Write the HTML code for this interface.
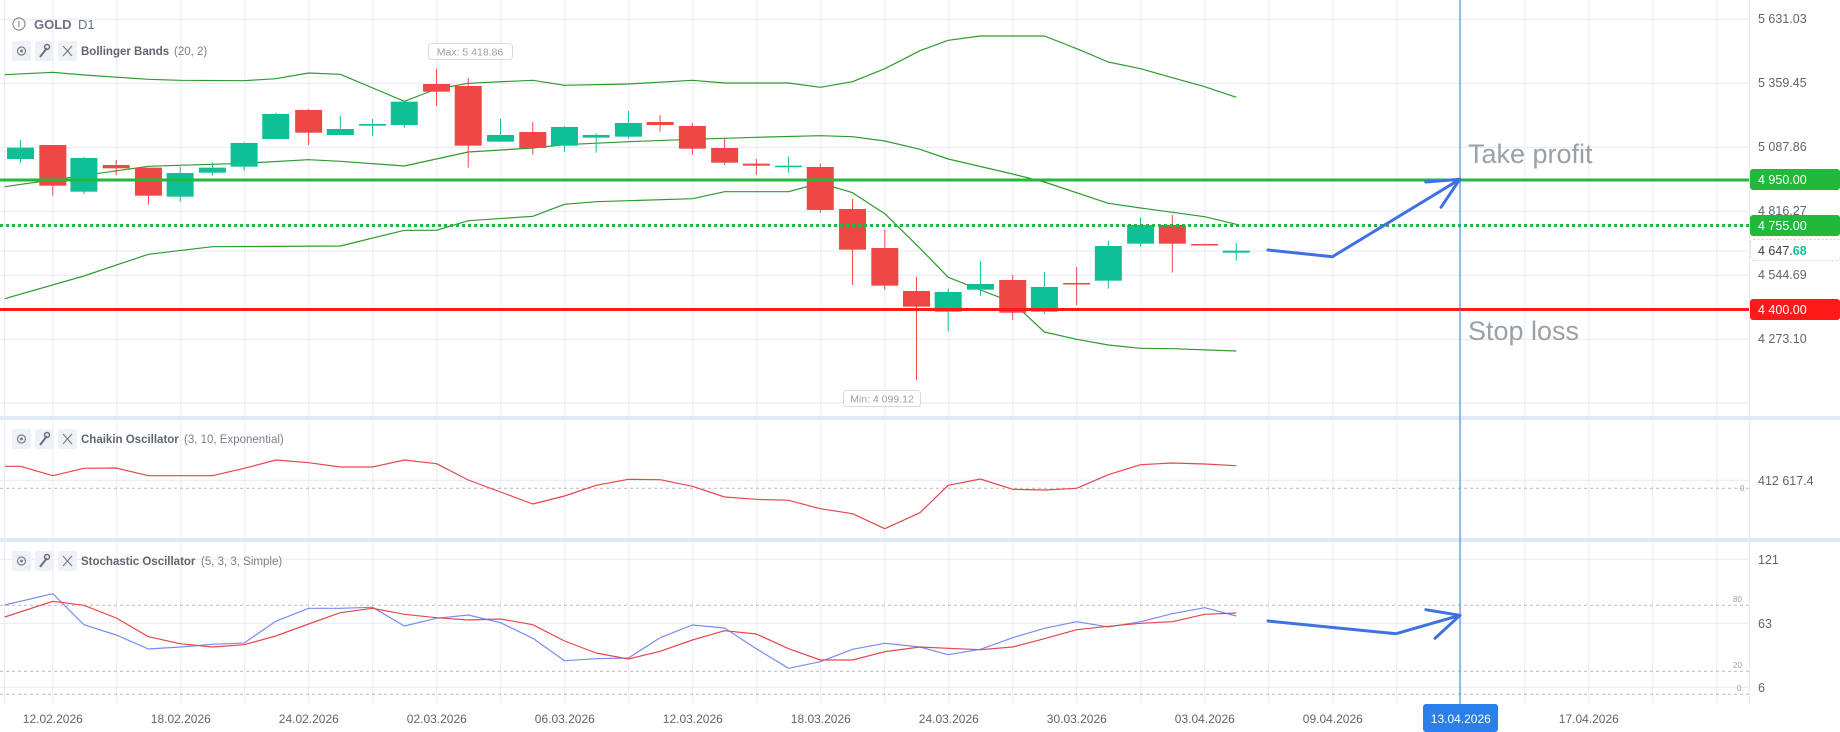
<!DOCTYPE html>
<html><head><meta charset="utf-8">
<style>
html,body{margin:0;padding:0;background:#fff;}
svg{display:block;font-family:"Liberation Sans",sans-serif;}
</style></head>
<body>
<svg id="s" width="1840" height="732" viewBox="0 0 1840 732" xmlns="http://www.w3.org/2000/svg">
<rect width="1840" height="732" fill="#fff"/>
<g id="grid"></g>
<g id="plots"></g>
<!-- separators -->
<rect x="0" y="416" width="1840" height="4" fill="#e1e8f6"/>
<rect x="0" y="538" width="1840" height="4" fill="#e1e8f6"/>
<line x1="1749.5" y1="0" x2="1749.5" y2="704" stroke="#e3e9f5"/>
<!-- level lines -->
<line x1="0" y1="180" x2="1749" y2="180" stroke="#22b83c" stroke-width="3"/>
<line x1="0" y1="225.5" x2="1749" y2="225.5" stroke="#22b83c" stroke-width="3" stroke-dasharray="3,3"/>
<line x1="0" y1="309.5" x2="1749" y2="309.5" stroke="#ff1a1a" stroke-width="3"/>
<line x1="1460" y1="0" x2="1460" y2="704" stroke="#2a7fe8" stroke-width="1"/>
<g id="arrows" stroke="#3f72e0" stroke-width="3" fill="none" stroke-linecap="round" stroke-linejoin="round">
<polyline points="1268,250 1332.5,256.7 1459.8,179.3"/>
<polyline points="1425.8,182 1459.8,179.3 1441,207.3"/>
<polyline points="1268,621 1396,633.7 1460,615.3"/>
<polyline points="1425.8,609.7 1460,615.3 1435,638.3"/>
</g>
<text x="1468" y="163" font-size="27" fill="#9aa0a8">Take profit</text>
<text x="1468" y="340" font-size="27" fill="#9aa0a8">Stop loss</text>
<!-- header -->
<circle cx="19" cy="24" r="6" fill="none" stroke="#8a9099" stroke-width="1.2"/>
<line x1="19" y1="21" x2="19" y2="27" stroke="#8a9099" stroke-width="1.2"/>
<text x="34" y="29" font-size="13" font-weight="bold" fill="#6b7280">GOLD</text>
<text x="78" y="29" font-size="13" fill="#6b7280">D1</text>
<g id="icons"></g>
<text x="81" y="55" font-size="11.5" font-weight="bold" fill="#5f6670">Bollinger Bands</text>
<text x="174" y="55" font-size="11.5" fill="#7a808a">(20, 2)</text>
<text x="81" y="443" font-size="11.5" font-weight="bold" fill="#5f6670">Chaikin Oscillator</text>
<text x="184" y="443" font-size="11.5" fill="#7a808a">(3, 10, Exponential)</text>
<text x="81" y="565" font-size="11.5" font-weight="bold" fill="#5f6670">Stochastic Oscillator</text>
<text x="201" y="565" font-size="11.5" fill="#7a808a">(5, 3, 3, Simple)</text>
<!-- max/min tooltips -->
<rect x="428.5" y="43.5" width="84" height="16" rx="3" fill="#fff" stroke="#d8dde3"/>
<text x="470" y="55.5" font-size="10.5" fill="#9aa0a8" text-anchor="middle">Max: 5 418.86</text>
<rect x="843.5" y="390.5" width="77" height="16" rx="3" fill="#fff" stroke="#d8dde3"/>
<text x="882" y="402.5" font-size="10.5" fill="#9aa0a8" text-anchor="middle">Min: 4 099.12</text>
<!-- price axis -->
<g font-size="12.5" fill="#5f6670">
<text x="1758" y="23">5 631.03</text>
<text x="1758" y="87">5 359.45</text>
<text x="1758" y="151">5 087.86</text>
<text x="1758" y="215">4 816.27</text>
<text x="1758" y="279">4 544.69</text>
<text x="1758" y="343">4 273.10</text>
</g>
<rect x="1750" y="169" width="90" height="21" rx="3" fill="#22b83c"/>
<text x="1758" y="184" font-size="12.5" fill="#fff">4 950.00</text>
<rect x="1750" y="215" width="90" height="21" rx="3" fill="#22b83c"/>
<text x="1758" y="230" font-size="12.5" fill="#fff">4 755.00</text>
<rect x="1750.5" y="239.5" width="90" height="21" rx="3" fill="#fff" stroke="#d0d5dc" stroke-dasharray="2,2"/>
<text x="1758" y="255" font-size="12.5" fill="#3a4048">4 647.<tspan fill="#0fbf95" font-weight="bold">68</tspan></text>
<rect x="1750" y="299" width="90" height="21" rx="3" fill="#ff1a1a"/>
<text x="1758" y="314" font-size="12.5" fill="#fff">4 400.00</text>
<!-- osc axes -->
<text x="1758" y="485" font-size="12.5" fill="#5f6670">412 617.4</text>
<text x="1740" y="491" font-size="8" fill="#9aa0a8">0</text>
<text x="1758" y="564" font-size="12.5" fill="#5f6670">121</text>
<text x="1758" y="628" font-size="12.5" fill="#5f6670">63</text>
<text x="1758" y="692" font-size="12.5" fill="#5f6670">6</text>
<text x="1733" y="602" font-size="8" fill="#9aa0a8">80</text>
<text x="1733" y="668" font-size="8" fill="#9aa0a8">20</text>
<text x="1737" y="691" font-size="8" fill="#9aa0a8">0</text>
<!-- date axis -->
<rect x="1423" y="704" width="75" height="28" rx="3" fill="#2a7fe8"/>
<g id="dates" font-size="12" fill="#5f6670" text-anchor="middle"></g>
</svg>
<script>
const NS="http://www.w3.org/2000/svg";
function el(p,t,a){const e=document.createElementNS(NS,t);for(const k in a)e.setAttribute(k,a[k]);p.appendChild(e);return e;}
const X1=z=>z/1.7043, X2=z=>920+z/1.7043, Y1=z=>z/3, Y3=z=>366+z/3;
const g=document.getElementById('grid');
// vertical grid
for(let x=52.8;x<1749;x+=64){el(g,'line',{x1:x,y1:0,x2:x,y2:704,stroke:'#e6ecf6'});}
el(g,'line',{x1:4.5,y1:0,x2:4.5,y2:704,stroke:'#e6ecf6'});
[19.3,83.3,147.3,211.3,275.3,339.3,403,251].forEach(y=>el(g,'line',{x1:0,y1:y,x2:1749,y2:y,stroke:'#e3e9f5'}));
[480.3,559.3,623.3,687.3].forEach(y=>el(g,'line',{x1:0,y1:y,x2:1749,y2:y,stroke:'#e3e9f5'}));
[488.3,605.3,671.3,694.3].forEach(y=>el(g,'line',{x1:0,y1:y,x2:1749,y2:y,stroke:'#b5b9c0','stroke-dasharray':'3,3'}));
const P=document.getElementById('plots');
function pl(pts1,pts2,fx1,fx2,fy,col,w){let s=pts1.map(p=>fx1(p[0]).toFixed(1)+','+fy(p[1]).toFixed(1));s=s.concat(pts2.map(p=>fx2(p[0]).toFixed(1)+','+fy(p[1]).toFixed(1)));el(P,'polyline',{points:s.join(' '),fill:'none',stroke:col,'stroke-width':w||1.2,'stroke-linejoin':'round'});}
const BB='#2f9a2f';
pl([[8,224],[90,217],[143,225],[253,238],[307,241],[416,242],[470,236],[526,219],[580,223],[689,304],[744,267],[798,250],[908,241],[962,256],[1071,252],[1180,241],[1235,249],[1344,249],[1398,262],[1453,245],[1508,206]],[[0,152],[48,121],[103,108],[212,108],[267,146],[321,186],[376,206],[430,233],[485,260],[539,292]],X1,X2,Y1,BB);
pl([[8,560],[253,499],[416,490],[526,479],[580,484],[689,498],[798,456],[908,444],[962,434],[1071,425],[1180,418],[1289,412],[1398,407],[1453,410],[1508,423]],[[0,448],[48,477],[158,522],[212,546],[321,610],[376,624],[485,650],[539,673]],X1,X2,Y1,BB);
pl([[8,896],[143,828],[253,763],[362,740],[580,738],[689,691],[744,691],[798,662],[908,649],[962,613],[1016,605],[1180,596],[1235,575],[1344,575],[1398,549],[1453,578],[1508,641]],[[0,745],[48,832],[103,870],[158,907],[212,996],[267,1018],[321,1035],[376,1045],[430,1046],[539,1053]],X1,X2,Y1,BB);
// candles: x(zoom), color, bodyTop, bodyBot, wickTop, wickBot (zoom coords), side
const G='#0fbf95',R='#ef4646';
const C1=[[35,G,443,477,420,488],[90,R,435,557,435,587],[143,G,474,575,470,582],[198,R,495,505,480,525],[253,R,503,587,503,614],[307,G,519,590,500,605],[362,G,503,518,487,527],[416,G,429,500,427,512],[470,G,342,417,338,417],[526,R,330,398,327,435],[580,G,387,405,347,405],[635,G,372,377,357,408],[689,G,305,375,305,383],[744,R,252,275,206,318],[798,R,258,437,234,503],[853,G,405,425,357,425],[908,R,396,444,366,464],[962,G,381,437,378,456],[1016,G,405,413,400,458],[1071,G,369,410,333,416],[1125,R,366,375,345,395],[1180,R,378,446,369,465],[1235,R,444,488,413,495],[1289,R,491,497,477,525],[1344,G,497,500,470,518],[1398,R,501,630,491,638],[1453,R,627,749,597,855],[1508,R,744,857,689,869],[1562,R,873,920,830,1141]];
const C2=[[48,G,876,935,866,993],[103,G,852,869,783,887],[158,R,840,938,825,960],[212,G,861,935,816,942],[267,R,849,852,801,915],[321,G,738,842,722,866],[376,G,675,731,651,740],[430,R,675,731,645,818],[485,R,732,734,732,734],[539,G,752,758,729,782]];
function cd(c,fx){const x=fx(c[0]);el(P,'line',{x1:x,y1:Y1(c[4]),x2:x,y2:Y1(c[5]),stroke:c[1],'stroke-width':1});const t=Y1(c[2]),b=Y1(c[3]);el(P,'rect',{x:x-13.5,y:t,width:27,height:Math.max(1.5,b-t),fill:c[1]});}
C1.forEach(c=>cd(c,X1));C2.forEach(c=>cd(c,X2));
// Chaikin
pl([[8,301],[35,301],[90,329],[143,307],[198,306],[253,329],[362,329],[416,307],[470,282],[526,290],[580,303],[635,303],[689,282],[744,293],[798,342],[853,378],[908,414],[962,390],[1016,358],[1071,340],[1125,341],[1180,361],[1235,393],[1289,400],[1344,403],[1398,428],[1453,443],[1508,488]],[[0,440],[48,358],[103,339],[158,370],[212,372],[267,367],[321,326],[376,296],[430,291],[485,294],[539,299]],X1,X2,Y3,'#e5484d');
// Stoch blue
pl([[8,717],[90,683],[143,776],[198,807],[253,849],[307,843],[362,835],[416,831],[470,766],[526,727],[580,727],[635,724],[689,780],[744,757],[798,747],[853,770],[908,817],[962,884],[1016,878],[1071,876],[1125,815],[1180,777],[1235,786],[1289,848],[1344,907],[1398,887],[1453,850],[1508,832]],[[0,843],[48,866],[103,850],[158,815],[212,787],[267,767],[321,783],[376,767],[430,743],[485,725],[539,750]],X1,X2,Y3,'#7b8cf0');
pl([[8,753],[90,706],[143,718],[198,756],[253,812],[307,833],[362,843],[416,836],[470,810],[526,774],[580,740],[635,727],[689,745],[744,755],[798,762],[853,759],[908,776],[962,825],[1016,861],[1071,879],[1125,856],[1180,822],[1235,794],[1289,804],[1344,848],[1398,882],[1453,882],[1508,857]],[[0,843],[48,847],[103,851],[158,843],[212,818],[267,791],[321,781],[376,772],[430,767],[485,745],[539,741]],X1,X2,Y3,'#e5484d');
// dates
const D=['12.02.2026','18.02.2026','24.02.2026','02.03.2026','06.03.2026','12.03.2026','18.03.2026','24.03.2026','30.03.2026','03.04.2026','09.04.2026','13.04.2026','17.04.2026'];
const dg=document.getElementById('dates');
D.forEach((d,i)=>{const t=el(dg,'text',{x:52.8+128*i,y:723});t.textContent=d;if(i==11)t.setAttribute('fill','#fff');});
// indicator icons
const ic=document.getElementById('icons');
[51,439,561].forEach(y=>{[12,35,58].forEach(x=>el(ic,'rect',{x:x,y:y-10,width:19,height:20,rx:2,fill:'#eef1f5'}));
el(ic,'circle',{cx:21.5,cy:y,r:4,fill:'none',stroke:'#7a808a','stroke-width':1.2});
el(ic,'circle',{cx:21.5,cy:y,r:1.5,fill:'#7a808a'});
el(ic,'line',{x1:40,y1:y+6,x2:47,y2:y-3,stroke:'#6b7280','stroke-width':2});
el(ic,'circle',{cx:47,cy:y-4,r:2.5,fill:'none',stroke:'#6b7280','stroke-width':1.5});
el(ic,'line',{x1:63,y1:y-5,x2:72,y2:y+5,stroke:'#7a808a','stroke-width':1.2});
el(ic,'line',{x1:72,y1:y-5,x2:63,y2:y+5,stroke:'#7a808a','stroke-width':1.2});});
</script>
</body></html>
